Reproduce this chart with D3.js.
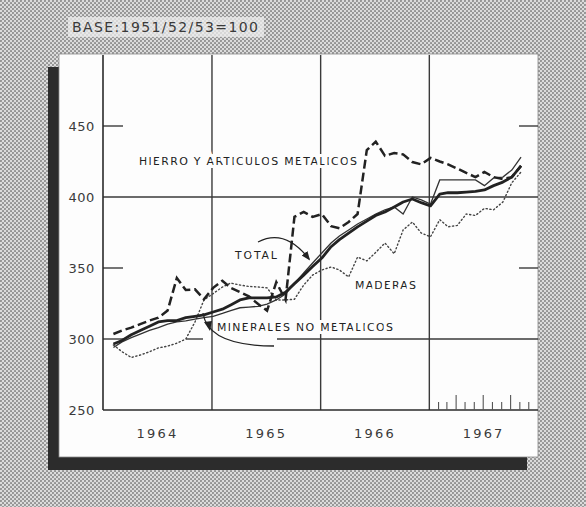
<!DOCTYPE html>
<html><head><meta charset="utf-8">
<script src="https://cdn.jsdelivr.net/npm/d3@7"></script>
<style>html,body{margin:0;padding:0;background:#fff;}svg{display:block;}</style>
</head><body>
<svg id="c" width="586" height="507"></svg>
<script>
// ---- data (monthly index values, Feb 1964 – Nov 1967) ----
const startYear = 1964;
const yearLabels = ["1964", "1965", "1966", "1967"];
const yTickValues = [250, 300, 350, 400, 450];
const baseLabel = "BASE:1951/52/53=100";
const seriesNames = ["HIERRO Y ARTICULOS METALICOS", "TOTAL", "MINERALES NO METALICOS", "MADERAS"];

const hierro = [303.5,306,308,310.5,313,315,320,343,334.5,335,328,336,341,336,333,330,324.6,320,340,327.5,386,389.5,386,388,379.5,378,382.4,388,433,439,429,431,430,424.6,423,427.5,425,423,420,417,414,417.6,414,412.7,414,422];
const total = [296.5,299,303,306,309,312,313,313,315,316,317,319,321,324,327.5,329,329,329,329.6,333,339,345,351,357,365,370,374.6,379,383,387,389.5,393,396.5,398.6,396,393.7,402,403,403,403.5,404,405,408,410.5,414,422];
const minerales = [294,298,301,303.5,306,308,310.5,312,312.7,314,315,316,318,320,322,322.5,323,324.6,327.5,331.7,339,346.5,353.5,360.6,367.6,372.5,376.8,381,384.5,388,391,393,388,400,398,395,412,412,412,412,412,408,413.4,414,419,428];
const maderas = [295.8,291,287,288.7,291,293.7,295,297,300,312,327.5,332,336.6,339.4,338,337,336.6,336,327.5,327.5,328,338,345,348.6,350.7,348.6,343.7,357.7,355,361,367.6,360,376.8,382.4,374.6,372,384,379,380,388,387,392,391,396.5,410,417.6];

const dates = hierro.map((_, i) => new Date(startYear, 1 + i, 5));

// ---- layout ----
const svg = d3.select("#c");
const defs = svg.append("defs");
const pat = defs.append("pattern").attr("id","ht").attr("width",4).attr("height",4).attr("patternUnits","userSpaceOnUse");
pat.append("rect").attr("width",4).attr("height",4).attr("fill","#dcdcdc");
pat.append("circle").attr("cx",1).attr("cy",1).attr("r",1.05).attr("fill","#8e8e8e");
pat.append("circle").attr("cx",3).attr("cy",3).attr("r",1.05).attr("fill","#8e8e8e");

const mk = defs.append("marker").attr("id","arr").attr("viewBox","0 0 10 10").attr("refX",8).attr("refY",5)
  .attr("markerWidth",7).attr("markerHeight",7).attr("orient","auto");
mk.append("path").attr("d","M0,1 L10,5 L0,9 Z").attr("fill","#222");

svg.append("rect").attr("width",586).attr("height",507).attr("fill","url(#ht)");

// base label
svg.append("rect").attr("x",68).attr("y",17).attr("width",196).attr("height",20).attr("fill","#ececec").attr("opacity",0.75);
svg.append("text").attr("x",72).attr("y",32).attr("font-family","DejaVu Sans").attr("font-size",14)
  .attr("fill","#3a3a3a").attr("textLength",186).attr("lengthAdjust","spacing").text(baseLabel);

// shadow + panel
const P = {x:59, y:54, w:479, h:403};
svg.append("rect").attr("x",P.x-11).attr("y",P.y+13).attr("width",P.w).attr("height",P.h).attr("fill","#2c2c2c");
svg.append("rect").attr("x",P.x).attr("y",P.y).attr("width",P.w).attr("height",P.h).attr("fill","#fdfdfd")
  .attr("stroke","#8a8a8a").attr("stroke-width",0.8);

const x = d3.scaleTime().domain([new Date(1964,0,1), new Date(1968,0,1)]).range([103, 538]);
const y = d3.scaleLinear().domain([250, 500]).range([410, 55]);

const g = svg.append("g");
const gridC = "#3a3a3a";

// vertical year gridlines
[1965,1966,1967].forEach(yr => {
  g.append("line").attr("x1",x(new Date(yr,0,1))).attr("x2",x(new Date(yr,0,1)))
   .attr("y1",y(500)).attr("y2",y(250)).attr("stroke",gridC).attr("stroke-width",1.4);
});
// horizontal gridline 400 (full)
g.append("line").attr("x1",x.range()[0]).attr("x2",x.range()[1]).attr("y1",y(400)).attr("y2",y(400))
  .attr("stroke",gridC).attr("stroke-width",1.4);
// horizontal gridline 300 (broken around the lines and the note)
[[103,124],[186,203],[277,538]].forEach(s => {
  g.append("line").attr("x1",s[0]).attr("x2",s[1]).attr("y1",y(300)).attr("y2",y(300))
   .attr("stroke",gridC).attr("stroke-width",1.4);
});
// short ticks at 350, 450 on both sides
[350,450].forEach(v => {
  g.append("line").attr("x1",103).attr("x2",123).attr("y1",y(v)).attr("y2",y(v)).attr("stroke",gridC).attr("stroke-width",1.4);
  g.append("line").attr("x1",519).attr("x2",538).attr("y1",y(v)).attr("y2",y(v)).attr("stroke",gridC).attr("stroke-width",1.4);
});
// axes
g.append("line").attr("x1",103).attr("x2",103).attr("y1",y(500)).attr("y2",y(250)).attr("stroke","#2a2a2a").attr("stroke-width",1.6);
g.append("line").attr("x1",103).attr("x2",538).attr("y1",y(250)).attr("y2",y(250)).attr("stroke","#2a2a2a").attr("stroke-width",1.6);

// monthly ticks in 1967
d3.timeMonth.range(new Date(1967,1,1), new Date(1968,0,1)).forEach(d => {
  const tall = d.getMonth() % 3 === 0;
  g.append("line").attr("x1",x(d)).attr("x2",x(d)).attr("y1",y(250)).attr("y2",y(250) - (tall ? 15 : 8))
   .attr("stroke","#555").attr("stroke-width",1.1);
});

// y labels
yTickValues.forEach(v => {
  g.append("text").attr("x",95).attr("y",y(v)).attr("dy","0.36em").attr("text-anchor","end")
   .attr("font-family","DejaVu Sans").attr("font-size",13).attr("fill","#3a3a3a")
   .attr("letter-spacing",0.6).text(v);
});
// year labels
yearLabels.forEach((t, i) => {
  const cx = (x(new Date(startYear+i,0,1)) + x(new Date(startYear+i+1,0,1))) / 2;
  g.append("text").attr("x",cx).attr("y",433).attr("dy","0.36em").attr("text-anchor","middle")
   .attr("font-family","DejaVu Sans").attr("font-size",13).attr("fill","#3a3a3a")
   .attr("letter-spacing",2.2).text(t);
});

// series labels (with white halo knocking out gridlines)
function label(txt, x0, yc, w) {
  g.append("text").attr("x",x0).attr("y",yc).attr("dy","0.36em")
   .attr("font-family","DejaVu Sans").attr("font-size",11).attr("fill","#222")
   .attr("stroke","#fdfdfd").attr("stroke-width",6).attr("paint-order","stroke")
   .attr("textLength",w).attr("lengthAdjust","spacing").text(txt);
}
label(seriesNames[0], 139, 161, 218);

// lines
const line = vals => d3.line().x((d,i) => x(dates[i])).y(d => y(d)).curve(d3.curveLinear)(vals);
g.append("path").attr("d",line(maderas)).attr("fill","none").attr("stroke","#444").attr("stroke-width",1.4)
  .attr("stroke-dasharray","1.2,2.6").attr("stroke-linecap","round");
g.append("path").attr("d",line(minerales)).attr("fill","none").attr("stroke","#333").attr("stroke-width",1.3);
g.append("path").attr("d",line(total)).attr("fill","none").attr("stroke","#222").attr("stroke-width",2.8).attr("stroke-linejoin","round");
g.append("path").attr("d",line(hierro)).attr("fill","none").attr("stroke","#222").attr("stroke-width",2.5)
  .attr("stroke-dasharray","9,4");

label(seriesNames[1], 235, 255, 42);
label(seriesNames[3], 355, 285, 61);
label(seriesNames[2], 217, 327, 176);

// annotation arrows
g.append("path").attr("d","M258,242 Q285,228 309,259").attr("fill","none").attr("stroke","#222")
  .attr("stroke-width",1.3).attr("marker-end","url(#arr)");
g.append("path").attr("d","M274,346 Q208,346 203,313").attr("fill","none").attr("stroke","#222")
  .attr("stroke-width",1.3);
g.append("path").attr("d","M204,322 L210,331 L212,321 Z").attr("fill","#222");
</script>
</body></html>
